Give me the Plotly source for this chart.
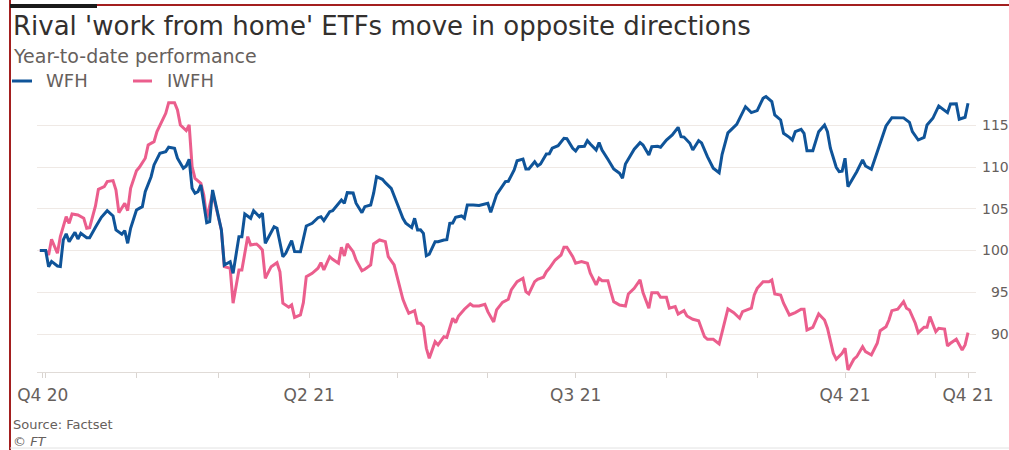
import pandas as pd
import plotly.graph_objects as go

# ---------------- data (day offsets from 2021-01-01, index values) ----------------
wfh_day = [
    -2, 0, 1, 2, 4, 5, 6, 7, 8, 10,
    11, 12, 14, 15, 17, 19, 21, 23, 24, 26,
    27, 28, 29, 31, 33, 34, 36, 37, 39, 41,
    42, 44, 45, 47, 48, 49, 50, 51, 52, 53,
    55, 56, 57, 58, 60, 61, 63, 64, 66, 67,
    68, 70, 71, 73, 74, 75, 78, 79, 81, 82,
    84, 85, 87, 89, 91, 93, 94, 95, 97, 98,
    101, 102, 103, 105, 106, 108, 109, 111, 112, 113,
    115, 116, 118, 120, 122, 123, 125, 126, 127, 128,
    129, 130, 131, 133, 134, 136, 137, 138, 139, 140,
    142, 143, 144, 146, 148, 151, 152, 154, 156, 157,
    158, 160, 161, 163, 164, 165, 167, 168, 169, 171,
    172, 173, 175, 177, 178, 180, 181, 182, 184, 185,
    186, 188, 189, 190, 192, 194, 196, 197, 198, 200,
    201, 203, 204, 206, 207, 209, 210, 212, 214, 216,
    217, 218, 220, 221, 223, 224, 226, 228, 230, 231,
    233, 236, 238, 239, 241, 243, 245, 246, 248, 249,
    251, 252, 254, 255, 256, 258, 259, 260, 262, 264,
    266, 267, 268, 270, 271, 272, 273, 274, 276, 277,
    279, 280, 282, 284, 286, 287, 289, 291, 293, 295,
    296, 298, 300, 301, 303, 305, 307, 308, 309, 311,
    312, 314, 315,
]
wfh_value = [
    100.0, 100.0, 98.07, 98.7, 98.15, 98.1, 101.27, 102.0, 101.07, 102.19,
    101.39, 102.07, 101.55, 101.55, 102.79, 103.99, 104.78, 104.15, 102.47, 101.95,
    102.39, 100.87, 102.67, 104.86, 105.26, 107.06, 108.85, 110.26, 111.66, 111.85,
    112.38, 112.26, 111.06, 109.86, 110.14, 110.94, 107.46, 106.87, 107.06, 107.86,
    103.34, 103.46, 107.26, 105.67, 102.47, 98.27, 98.67, 97.28, 101.67, 101.67,
    104.39, 103.87, 104.78, 104.06, 104.47, 100.87, 102.86, 102.67, 99.27, 99.68,
    101.19, 99.87, 99.85, 102.95, 103.27, 103.94, 104.06, 103.58, 104.66, 104.78,
    106.06, 105.67, 106.94, 106.9, 105.67, 104.54, 105.26, 105.46, 106.87, 108.85,
    108.54, 108.14, 107.46, 105.67, 103.87, 103.27, 102.75, 103.87, 102.47, 102.5,
    102.07, 99.39, 99.56, 101.07, 101.07, 101.27, 101.3, 103.27, 103.3, 103.99,
    104.15, 103.87, 105.46, 105.46, 105.4, 105.67, 104.58, 106.7, 107.66, 108.26,
    108.3, 109.66, 110.77, 110.97, 109.78, 109.78, 110.65, 110.14, 110.38, 111.57,
    111.6, 112.26, 112.57, 113.45, 113.4, 112.26, 111.93, 112.45, 112.5, 113.17,
    112.77, 112.05, 112.93, 112.05, 110.94, 109.78, 109.26, 108.66, 110.38, 111.45,
    112.14, 112.93, 112.65, 111.45, 112.45, 112.5, 112.38, 113.25, 113.85, 114.77,
    113.65, 113.6, 112.86, 112.05, 113.17, 112.9, 111.25, 109.86, 109.33, 111.5,
    114.1, 115.13, 116.53, 117.24, 116.53, 116.77, 118.25, 118.44, 117.84, 116.25,
    115.65, 114.05, 113.57, 113.25, 114.25, 114.53, 114.05, 111.97, 111.97, 114.25,
    115.05, 114.25, 112.26, 109.98, 109.45, 109.5, 111.06, 107.66, 108.85, 109.45,
    110.86, 110.14, 109.74, 111.85, 114.13, 114.93, 115.92, 115.92, 115.9, 115.37,
    114.25, 113.25, 113.57, 115.05, 115.85, 117.33, 116.85, 116.53, 117.57, 117.6,
    115.73, 115.97, 117.65,
]

iwfh_day = [
    -2, 0, 1, 2, 4, 5, 7, 8, 9, 11,
    13, 14, 15, 17, 18, 20, 21, 23, 24, 25,
    27, 28, 29, 31, 32, 34, 35, 37, 38, 39,
    41, 42, 44, 45, 46, 48, 49, 50, 51, 53,
    54, 55, 57, 58, 60, 61, 63, 64, 66, 67,
    69, 70, 72, 73, 74, 75, 77, 79, 80, 81,
    83, 84, 85, 87, 88, 89, 91, 93, 94, 95,
    97, 98, 100, 101, 102, 103, 105, 106, 108, 109,
    111, 112, 114, 116, 117, 119, 120, 122, 123, 124,
    126, 127, 128, 129, 130, 131, 133, 134, 136, 137,
    139, 140, 141, 143, 145, 146, 148, 150, 151, 153,
    154, 156, 158, 159, 161, 163, 164, 165, 167, 168,
    170, 171, 172, 174, 176, 177, 178, 180, 181, 183,
    185, 186, 188, 189, 190, 192, 193, 194, 196, 198,
    199, 201, 203, 204, 206, 207, 209, 210, 212, 213,
    215, 216, 218, 219, 221, 223, 225, 226, 228, 230,
    231, 233, 235, 237, 238, 241, 242, 243, 245, 247,
    248, 249, 251, 252, 254, 256, 258, 259, 260, 262,
    264, 266, 267, 269, 270, 272, 273, 274, 276, 277,
    279, 280, 282, 284, 285, 287, 288, 289, 291, 293,
    294, 295, 297, 298, 300, 301, 302, 304, 305, 307,
    308, 309, 311, 313, 314, 315,
]
iwfh_value = [
    100.0, 100.0, 99.47, 101.35, 99.68, 101.67, 104.06, 103.27, 104.39, 104.27,
    103.87, 102.67, 102.75, 105.34, 107.34, 107.66, 108.26, 108.38, 107.26, 104.54,
    105.67, 104.78, 107.46, 109.57, 109.98, 111.06, 112.65, 113.05, 114.25, 114.93,
    116.45, 117.72, 117.72, 116.85, 115.05, 114.37, 115.05, 110.05, 108.66, 108.06,
    106.66, 103.87, 106.87, 105.46, 102.47, 98.07, 97.88, 93.69, 97.68, 97.68,
    101.67, 100.67, 100.79, 100.47, 100.07, 96.68, 98.07, 98.55, 97.47, 93.69,
    93.21, 93.48, 92.0, 92.28, 93.76, 96.87, 97.28, 97.88, 98.55, 97.68,
    99.27, 98.96, 98.48, 100.4, 99.35, 100.79, 99.87, 98.87, 97.59, 97.76,
    98.27, 100.79, 101.27, 101.07, 99.27, 98.27, 96.87, 94.16, 93.28, 92.49,
    92.8, 91.29, 91.29, 90.88, 88.29, 87.1, 89.08, 88.69, 89.68, 89.6,
    91.89, 91.36, 92.16, 92.97, 93.6, 93.36, 93.36, 93.57, 92.68, 91.45,
    92.9, 93.8, 94.16, 95.28, 96.27, 96.68, 95.08, 94.8, 96.27, 96.56,
    96.8, 97.47, 97.88, 98.87, 99.47, 100.4, 100.4, 99.27, 98.48, 98.67,
    98.48, 97.28, 95.88, 96.68, 96.39, 96.39, 95.08, 93.88, 93.48, 93.36,
    94.8, 95.48, 96.48, 94.96, 93.09, 94.96, 94.96, 94.4, 94.4, 93.09,
    93.28, 92.4, 92.8, 92.16, 91.77, 91.6, 89.68, 89.37, 89.37, 88.81,
    90.2, 93.0, 92.56, 91.89, 92.68, 93.09, 94.68, 95.48, 96.27, 96.27,
    96.48, 94.8, 94.68, 93.69, 92.28, 92.56, 92.97, 92.97, 90.49, 90.81,
    92.4, 91.68, 90.69, 87.69, 86.98, 87.69, 88.29, 85.7, 86.98, 87.29,
    88.49, 87.89, 87.49, 88.89, 90.4, 90.88, 91.68, 92.8, 92.97, 93.88,
    93.09, 92.88, 91.29, 90.16, 90.81, 90.81, 92.08, 90.28, 90.69, 90.6,
    88.57, 88.89, 89.37, 88.09, 88.69, 90.16,
]

x_tick_dates = ["2020-12-31", "2021-01-01", "2021-02-01", "2021-03-01", "2021-04-01",
                "2021-05-01", "2021-06-01", "2021-07-01", "2021-08-01", "2021-09-01",
                "2021-10-01", "2021-11-01", "2021-11-12"]
x_tick_labels = ["Q4 20", "", "", "", "Q2 21", "", "", "Q3 21", "", "", "Q4 21", "", "Q4 21"]
y_tick_values = [90, 95, 100, 105, 110, 115]
y_tick_labels = ["\u200790", "\u200795", "100", "105", "110", "115"]

series_names = ["WFH", "IWFH"]
series_colors = ["#0f5499", "#eb5e8d"]

title_text = "Rival 'work from home' ETFs move in opposite directions"
subtitle_text = "Year-to-date performance"
footer_text = "Source: Factset<br><i>© FT</i>"

# ---------------- layout constants ----------------
W, H = 1009, 450
ML, MR, MT, MB = 37, 33, 92, 78
PW, PH = W - ML - MR, H - MT - MB
FONT = "DejaVu Sans"
GREY = "#66605c"


def px(x):
    return (x - ML) / PW


def py(y):
    return (H - MB - y) / PH


base = pd.Timestamp("2021-01-01")
wfh_dates = base + pd.to_timedelta(wfh_day, unit="D")
iwfh_dates = base + pd.to_timedelta(iwfh_day, unit="D")

fig = go.Figure()
fig.add_trace(go.Scatter(x=iwfh_dates, y=iwfh_value, mode="lines", name=series_names[1],
                         line=dict(color=series_colors[1], width=3), showlegend=False))
fig.add_trace(go.Scatter(x=wfh_dates, y=wfh_value, mode="lines", name=series_names[0],
                         line=dict(color=series_colors[0], width=3), showlegend=False))

shapes = [
    # frame of the screenshot
    dict(type="line", xref="paper", yref="paper", x0=px(10), x1=px(10), y0=py(0), y1=py(450),
         line=dict(color="#a31f1f", width=2)),
    dict(type="line", xref="paper", yref="paper", x0=px(10), x1=px(1009), y0=py(5), y1=py(5),
         line=dict(color="#a31f1f", width=2)),
    dict(type="rect", xref="paper", yref="paper", x0=px(10), x1=px(97), y0=py(4), y1=py(8),
         fillcolor="#1a1a1a", line=dict(width=0)),
    dict(type="line", xref="paper", yref="paper", x0=px(10), x1=px(1009), y0=py(448), y1=py(448),
         line=dict(color="#e2e2e2", width=1)),
    # legend keys
    dict(type="line", xref="paper", yref="paper", x0=px(12), x1=px(32), y0=py(81), y1=py(81),
         line=dict(color=series_colors[0], width=3)),
    dict(type="line", xref="paper", yref="paper", x0=px(133), x1=px(152), y0=py(81), y1=py(81),
         line=dict(color=series_colors[1], width=3)),
]

annotations = [
    dict(text=title_text, x=px(11), y=py(26), xref="paper", yref="paper", xanchor="left",
         yanchor="middle", showarrow=False, font=dict(family=FONT, size=26, color="#33302e")),
    dict(text=subtitle_text, x=px(11), y=py(55.5), xref="paper", yref="paper", xanchor="left",
         yanchor="middle", showarrow=False, font=dict(family=FONT, size=19, color=GREY)),
    dict(text=series_names[0], x=px(44), y=py(81), xref="paper", yref="paper", xanchor="left",
         yanchor="middle", showarrow=False, font=dict(family=FONT, size=18, color=GREY)),
    dict(text=series_names[1], x=px(165), y=py(81), xref="paper", yref="paper", xanchor="left",
         yanchor="middle", showarrow=False, font=dict(family=FONT, size=18, color=GREY)),
    dict(text=footer_text, x=px(11), y=py(433), xref="paper", yref="paper", xanchor="left",
         yanchor="middle", align="left", showarrow=False,
         font=dict(family=FONT, size=13, color=GREY)),
]

fig.update_layout(
    width=W, height=H,
    margin=dict(l=ML, r=MR, t=MT, b=MB, pad=0, autoexpand=False),
    paper_bgcolor="white", plot_bgcolor="white",
    showlegend=False,
    shapes=shapes, annotations=annotations,
    font=dict(family=FONT, color=GREY),
)
fig.update_xaxes(
    type="date", automargin=False,
    range=["2020-12-29 00:42", "2021-11-14 17:31"],
    tickmode="array", tickvals=x_tick_dates, ticktext=x_tick_labels,
    ticks="outside", ticklen=5, tickwidth=1, tickcolor="#d9d4d0",
    showline=True, linecolor="#e0dbd7", linewidth=1,
    showgrid=False, zeroline=False,
    tickfont=dict(family=FONT, size=17, color=GREY),
    ticklabelstandoff=3,
)
fig.update_yaxes(
    side="right", automargin=False,
    range=[85.45, 119.0],
    tickmode="array", tickvals=y_tick_values, ticktext=y_tick_labels,
    ticks="", showline=False, zeroline=False,
    showgrid=True, gridcolor="#efe9e5", gridwidth=1,
    tickfont=dict(family=FONT, size=14, color=GREY),
    ticklabelstandoff=5,
)

fig.write_html(
    "out.html",
    config={"displayModeBar": False},
    post_script="document.body.style.margin='0';document.body.style.overflow='hidden';",
)
